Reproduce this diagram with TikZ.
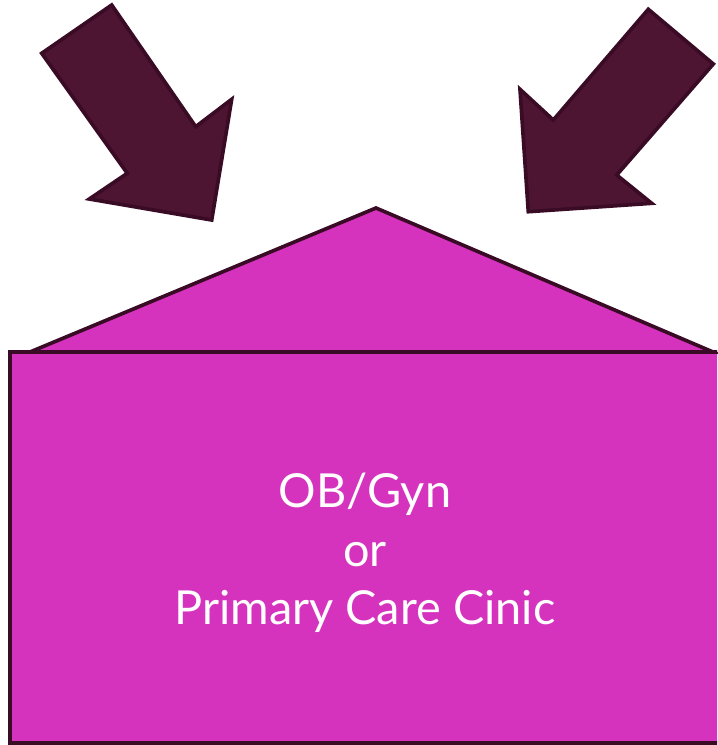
\documentclass[tikz,border=0pt]{standalone}
\usepackage{fontspec}
\setmainfont{Lato}
\usepackage{tikz}
\usetikzlibrary{positioning}
\definecolor{ClinicPink}  {HTML}{D533BE}
\definecolor{ClinicPlum}  {HTML}{4D1532}
\definecolor{ClinicPlumDk}{HTML}{3A0B25}
\definecolor{ClinicWhite} {HTML}{FFFFFF}
\tikzset{
  bigarrow/.style={fill=ClinicPlum,draw=ClinicPlumDk,line width=0.11cm,line join=miter},
  housepart/.style={fill=ClinicPink,draw=ClinicPlumDk,line width=0.11cm,line join=miter},
  clinictext/.style={text=ClinicWhite,font=\fontsize{40}{50}\selectfont,align=center}
}

\begin{document}
\begin{tikzpicture}[x=0.03cm,y=-0.03cm]
    \useasboundingbox (0,0) rectangle (717,745);
    % roof
    \draw[housepart] (30,352) -- (376,208) -- (713,352) -- cycle;
    % body
    \begin{scope}
      \clip (0,0) rectangle (717,745);
      \draw[housepart] (10,352) rectangle (730,743);
    \end{scope}
    % arrows
    \draw[bigarrow] (41.7,53.3) -- (111.7,5) -- (195.7,126.7) -- (231.7,99.3)
      -- (211.7,220) -- (89.3,199) -- (127.3,173.3) -- cycle;
    \draw[bigarrow] (648.3,9.3) -- (713.3,64) -- (616.7,175) -- (651.7,203.3)
      -- (528.3,211.7) -- (520,89.3) -- (553.3,120) -- cycle;
    % label
    \node[clinictext] (clinic) at (365,553) {OB/Gyn\\or\\Primary Care Cinic};
  \end{tikzpicture}
\end{document}
